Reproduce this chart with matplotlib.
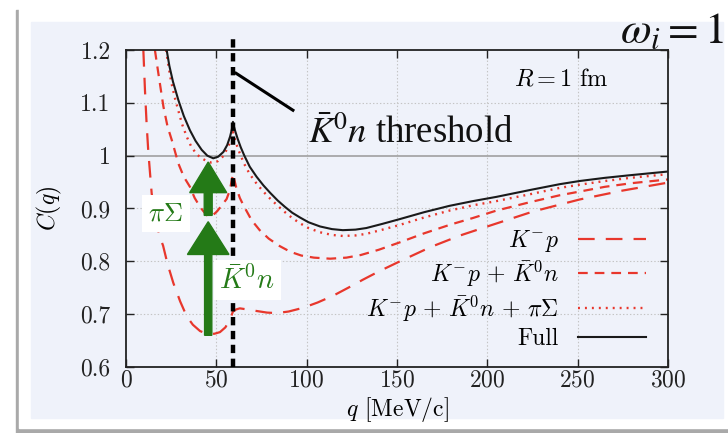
import matplotlib
matplotlib.use("Agg")
import matplotlib.pyplot as plt
from matplotlib.patches import Rectangle, FancyArrow

plt.rcParams['font.family'] = 'serif'
plt.rcParams['font.serif'] = ['cmr10']
plt.rcParams['mathtext.fontset'] = 'cm'
plt.rcParams['axes.formatter.use_mathtext'] = True
plt.rcParams['lines.scale_dashes'] = False

# K^- p only
q_kp = [9.6, 10.5, 11.4, 12.3, 13.3, 14.2, 16.0, 18.8, 20.5, 23.0, 26.2, 30.0,
        33.6, 37.0, 41.0, 45.5, 49.0, 52.0, 55.0, 57.6, 59.2, 61.0, 63.0, 67.0,
        72.3, 78.0, 83.4, 90.0, 98.0, 106.0, 114.7, 123.0, 131.0, 140.0, 151.6,
        168.6, 185.0, 200.0, 225.0, 251.0, 275.0, 300.0]
c_kp = [1.2, 1.124, 1.061, 1.01, 0.967, 0.929, 0.885, 0.845, 0.83, 0.795, 0.759,
        0.724, 0.696, 0.68, 0.668, 0.662, 0.663, 0.666, 0.675, 0.69, 0.705, 0.709,
        0.711, 0.709, 0.706, 0.703, 0.702, 0.705, 0.712, 0.722, 0.735, 0.75,
        0.765, 0.781, 0.8, 0.827, 0.849, 0.866, 0.894, 0.917, 0.934, 0.949]

# K^- p + Kbar^0 n
q_kn = [16.0, 17.9, 20.7, 23.0, 25.3, 29.0, 32.0, 35.4, 38.0, 41.0, 43.5, 45.5,
        48.0, 50.5, 53.0, 55.7, 57.5, 59.2, 61.0, 63.0, 65.0, 69.5, 74.0, 79.0,
        85.0, 91.0, 97.0, 104.0, 113.0, 122.0, 130.0, 140.0, 151.6, 165.0, 180.0,
        192.0, 205.0, 223.6, 240.0, 251.0, 265.0, 280.0, 300.0]
c_kn = [1.2, 1.156, 1.093, 1.055, 1.03, 0.985, 0.96, 0.941, 0.92, 0.903, 0.892,
        0.885, 0.887, 0.895, 0.906, 0.918, 0.935, 0.965, 0.94, 0.92, 0.906, 0.878,
        0.859, 0.843, 0.829, 0.818, 0.811, 0.807, 0.805, 0.807, 0.812, 0.822,
        0.836, 0.853, 0.87, 0.882, 0.896, 0.912, 0.925, 0.932, 0.941, 0.948, 0.955]

# K^- p + Kbar^0 n + pi Sigma
q_ps = [22.2, 23.5, 25.0, 27.0, 29.0, 31.0, 33.6, 36.0, 39.0, 41.9, 44.5, 47.0,
        49.0, 51.0, 53.5, 55.5, 57.6, 59.2, 60.5, 61.8, 63.5, 65.5, 68.5, 72.3,
        76.0, 79.7, 84.0, 88.0, 92.0, 96.3, 101.0, 107.4, 114.0, 120.0, 127.0,
        133.0, 142.0, 151.6, 165.0, 179.0, 192.0, 205.0, 223.6, 240.0, 251.0,
        265.0, 279.0, 300.0]
c_ps = [1.2, 1.17, 1.14, 1.11, 1.085, 1.06, 1.036, 1.018, 1.003, 0.995, 0.99,
        0.987, 0.987, 0.99, 0.998, 1.01, 1.025, 1.045, 1.028, 1.015, 1.0, 0.984,
        0.965, 0.947, 0.932, 0.919, 0.905, 0.893, 0.882, 0.872, 0.863, 0.855,
        0.85, 0.848, 0.849, 0.852, 0.86, 0.869, 0.883, 0.896, 0.906, 0.914,
        0.927, 0.939, 0.945, 0.952, 0.958, 0.965]

# full calculation
q_full = [22.5, 24.0, 26.0, 29.0, 32.0, 35.4, 38.5, 41.9, 45.0, 48.3, 51.0, 53.9,
          56.0, 57.6, 58.6, 59.2, 59.6, 60.5, 61.8, 63.5, 65.5, 68.5, 72.3, 76.0,
          79.7, 84.0, 88.0, 92.0, 96.3, 101.0, 107.4, 114.0, 120.0, 127.0, 133.0,
          142.0, 151.6, 165.0, 179.0, 192.0, 205.0, 223.6, 240.0, 251.0, 265.0,
          279.0, 300.0]
c_full = [1.2, 1.17, 1.14, 1.105, 1.075, 1.048, 1.028, 1.011, 1.0, 0.995, 0.998,
          1.007, 1.02, 1.036, 1.05, 1.064, 1.057, 1.046, 1.032, 1.016, 1.0, 0.979,
          0.96, 0.944, 0.93, 0.915, 0.903, 0.892, 0.883, 0.874, 0.866, 0.861,
          0.859, 0.86, 0.863, 0.871, 0.88, 0.893, 0.905, 0.914, 0.922, 0.935,
          0.946, 0.952, 0.958, 0.963, 0.97]

labels = [r'$K^{-}p$', r'$K^{-}p\,+\,\bar{K}^{0}n$',
          r'$K^{-}p\,+\,\bar{K}^{0}n\,+\,\pi\Sigma$', 'Full']
q_threshold = 59.2

W, H = 728, 433
fig = plt.figure(figsize=(W / 100, H / 100), dpi=100)
fig.patch.set_facecolor('white')


def px_rect(x0, y0, x1, y1, color):
    fig.patches.append(Rectangle((x0 / W, 1 - y1 / H), (x1 - x0) / W, (y1 - y0) / H,
                                 transform=fig.transFigure, color=color, zorder=-10))


# slide panel with a drop shadow
px_rect(16, 10, 728, 433, '#a9a9a9')
px_rect(19, 7, 728, 428, 'white')
px_rect(31, 22, 723, 418, '#eff2fa')

ax = fig.add_axes([126 / W, 1 - 367 / H, 542 / W, 317 / H])
ax.set_facecolor('none')

red = '#e8372c'
ax.plot(q_kp, c_kp, color=red, lw=1.6, ls=(0, (12, 8)), label=labels[0])
ax.plot(q_kn, c_kn, color=red, lw=1.6, ls=(0, (7, 5)), label=labels[1])
ax.plot(q_ps, c_ps, color=red, lw=1.7, ls=(0, (1.4, 3.6)), label=labels[2])
ax.plot(q_full, c_full, color='#1a1a1a', lw=1.5, label=labels[3])

ax.set_xlim(0, 300)
ax.set_ylim(0.6, 1.2)
ax.set_xticks([0, 50, 100, 150, 200, 250, 300])
ax.set_yticks([0.6, 0.7, 0.8, 0.9, 1.0, 1.1, 1.2])
ax.set_yticklabels(['0.6', '0.7', '0.8', '0.9', '1', '1.1', '1.2'])
ax.tick_params(direction='in', length=6, width=1, top=True, right=True,
               labelsize=17, colors='#222222')
ax.tick_params(axis='x', pad=2)
ax.tick_params(axis='y', pad=11)
for s in ax.spines.values():
    s.set_linewidth(1.3)
    s.set_color('#222222')

for x in [50, 100, 150, 200, 250]:
    ax.axvline(x, color='#c4c4c4', lw=0.8, ls=(0, (1, 1.5)), zorder=0)
for y in [0.7, 0.8, 0.9, 1.1]:
    ax.axhline(y, color='#c4c4c4', lw=0.8, ls=(0, (1, 1.5)), zorder=0)
ax.axhline(1.0, color='#a0a0a0', lw=1.2, zorder=0)

ax.set_xlabel(r'$q$ [MeV/c]', fontsize=17, labelpad=2)
ax.set_ylabel(r'$C(q)$', fontsize=17, labelpad=12)

ax.text(241, 1.132, r'$R = 1\ \mathrm{fm}$', fontsize=17.5, ha='center', va='baseline')

leg = ax.legend(loc='lower right', markerfirst=False, frameon=False, fontsize=17,
                handlelength=2.9, handletextpad=0.8, labelspacing=0.2,
                borderaxespad=0.3, bbox_to_anchor=(0.99, 0.0))

# threshold marker and annotation
ax.plot([q_threshold, q_threshold], [0.6, 1.225], color='black', lw=3.2,
        ls=(0, (6, 4)), clip_on=False, zorder=5)
ax.plot([60.9, 92.4], [1.156, 1.086], color='black', lw=2.2, clip_on=False)
ax.text(100.7, 1.024, r'$\bar{K}^{0}n$ threshold', fontsize=26.5, ha='left',
        va='baseline', math_fontfamily='stix', family='Liberation Serif',
        color='#111111')

# channel arrows
green = '#247a17'
ax.add_patch(FancyArrow(45.5, 0.887, 0, 0.101, width=4.4, head_width=20.5,
                        head_length=0.058, length_includes_head=True,
                        color=green, zorder=6))
ax.add_patch(FancyArrow(45.5, 0.66, 0, 0.215, width=4.0, head_width=23,
                        head_length=0.062, length_includes_head=True,
                        color=green, zorder=6))
ax.text(22, 0.89, r'$\pi\Sigma$', fontsize=19, color=green, ha='center',
        va='center', zorder=7,
        bbox=dict(boxstyle='square,pad=0.25', fc='white', ec='none'))
ax.text(67, 0.764, r'$\bar{K}^{0}n$', fontsize=20.5, color=green, ha='center',
        va='center', zorder=7,
        bbox=dict(boxstyle='square,pad=0.2', fc='white', ec='none'))

fig.text(724 / W, 1 - 43 / H, r'$\omega_i = 1$', fontsize=32, math_fontfamily='stix',
         ha='right', va='baseline', color='#111111')

fig.savefig('out.png', dpi=100)
